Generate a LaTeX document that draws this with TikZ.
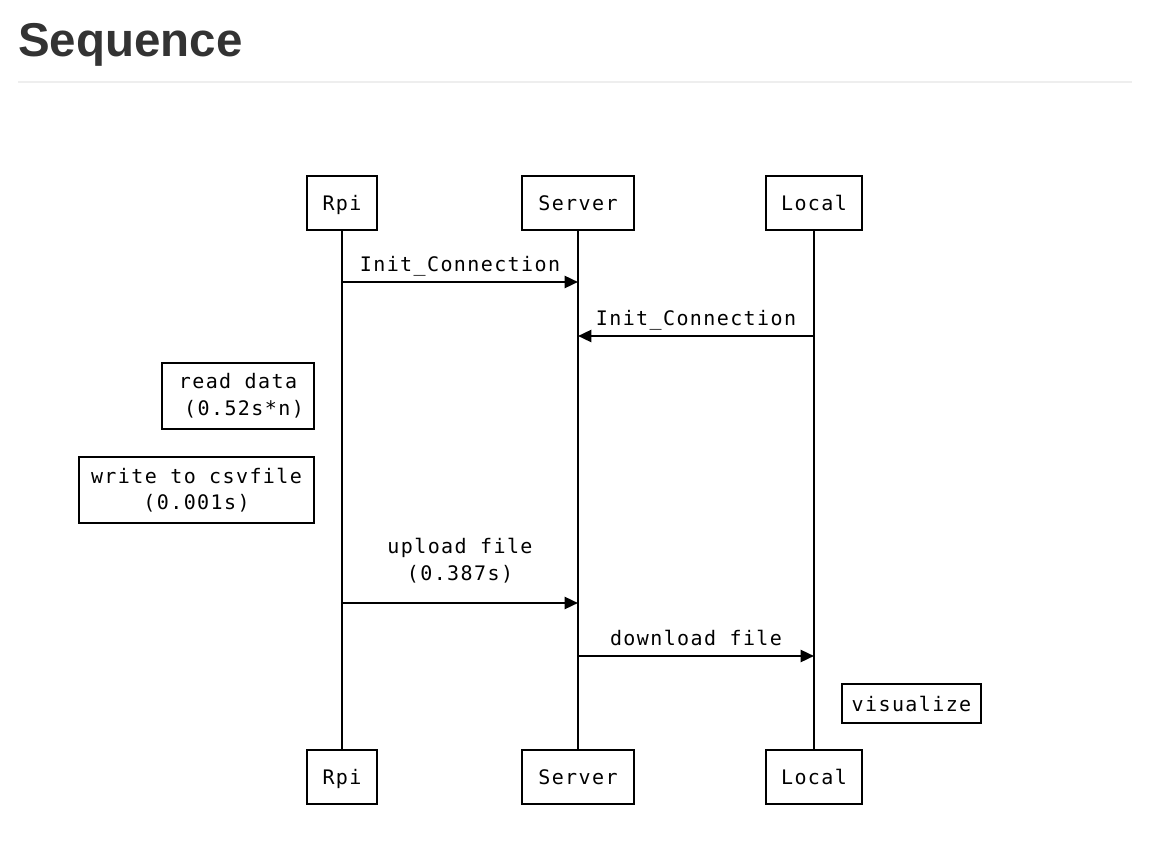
\documentclass[tikz,border=0pt]{standalone}
\usepackage{fontspec}
\setmainfont{Liberation Sans}
\newfontfamily\seqfont[LetterSpace=7]{DejaVu Sans Mono}
\usetikzlibrary{arrows.meta}
\definecolor{titlegray}{HTML}{333333}
\definecolor{rulegray}{HTML}{EEEEEE}
\begin{document}
\begin{tikzpicture}[x=0.75pt,y=-0.75pt]
\useasboundingbox (0,0) rectangle (1164,848);
\tikzstyle{every node}=[font=\seqfont\fontsize{15}{20}\selectfont,inner sep=0pt]
\tikzstyle{actor}=[draw,line width=1.8pt,minimum height=40.5pt,text height=12pt,text depth=1pt]
\tikzstyle{note}=[draw,line width=1.8pt,align=center]
\tikzstyle{life}=[line width=1.8pt]
\tikzstyle{msg}=[line width=1.8pt,-{Triangle[length=10pt,width=9pt]}]
\tikzstyle{lbl}=[text height=11pt,text depth=3pt]
% title
\node[anchor=base west,font=\bfseries\fontsize{35.6}{40}\selectfont,text=titlegray] (title) at (18,57) {Sequence};
\draw[rulegray,line width=1.5pt] (18,82) -- (1132,82);
% actors
\node[actor,minimum width=52.5pt](rpiT) at (342,203) {Rpi};
\node[actor,minimum width=84pt](srvT) at (578,203) {Server};
\node[actor,minimum width=72pt](locT) at (814,203) {Local};
\node[actor,minimum width=52.5pt](rpiB) at (342,777) {Rpi};
\node[actor,minimum width=84pt](srvB) at (578,777) {Server};
\node[actor,minimum width=72pt](locB) at (814,777) {Local};
\draw[life] (rpiT) -- (rpiB);
\draw[life] (srvT) -- (srvB);
\draw[life] (locT) -- (locB);
% messages
\coordinate (m1a) at (342,282); \coordinate (m1b) at (578,282);
\coordinate (m2a) at (814,336); \coordinate (m2b) at (578,336);
\coordinate (m3a) at (342,603); \coordinate (m3b) at (578,603);
\coordinate (m4a) at (578,656); \coordinate (m4b) at (814,656);
\draw[msg] (m1a) -- node[lbl,above=4pt]{Init\_Connection} (m1b);
\draw[msg] (m2a) -- node[lbl,above=4pt]{Init\_Connection} (m2b);
\draw[msg] (m3a) -- node[above=14pt,align=center]{upload file\\(0.387s)} (m3b);
\draw[msg] (m4a) -- node[lbl,above=4pt]{download file} (m4b);
% notes
\node[note,minimum width=114pt,minimum height=49.5pt](read) at (238,396) {read data\\\hphantom{x}(0.52s*n)};
\node[note,minimum width=176pt,minimum height=49.5pt](write) at (196.5,490) {write to csvfile\\(0.001s)};
\node[note,minimum width=104pt,minimum height=29pt](vis) at (911.5,703.5) {visualize};
\end{tikzpicture}
\end{document}
